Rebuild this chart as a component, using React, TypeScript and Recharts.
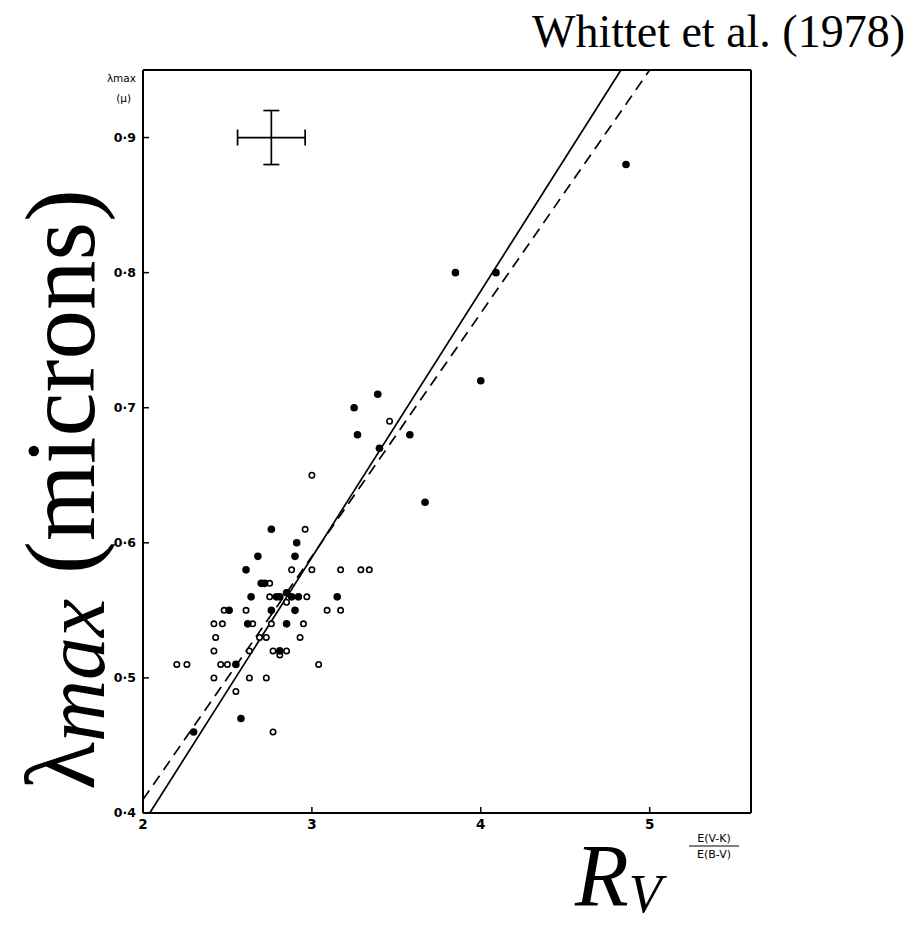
import { ScatterChart, Scatter, XAxis, YAxis, ReferenceLine, ErrorBar } from "recharts";

// stars with filled symbols
const closedRv = [
  4.86, 3.85, 4.09, 4.0, 3.39, 3.25, 3.27, 3.58, 3.4, 3.67,
  2.76, 2.91, 2.68, 2.9, 2.61, 2.7, 2.72, 2.85, 2.64, 2.79,
  2.81, 2.88, 2.92, 3.15, 2.51, 2.76, 2.9, 2.62, 2.85, 2.81,
  2.55, 2.58, 2.3,
];
const closedLambda = [
  0.88, 0.8, 0.8, 0.72, 0.71, 0.7, 0.68, 0.68, 0.67, 0.63,
  0.61, 0.6, 0.59, 0.59, 0.58, 0.57, 0.57, 0.563, 0.56, 0.56,
  0.56, 0.56, 0.56, 0.56, 0.55, 0.55, 0.55, 0.54, 0.54, 0.52,
  0.51, 0.47, 0.46,
];

// stars with open symbols
const openRv = [
  3.46, 3.0, 2.96, 2.88, 3.0, 3.17, 3.29, 3.34, 2.75, 2.75,
  2.97, 2.85, 2.48, 2.61, 3.09, 3.17, 2.42, 2.47, 2.65, 2.76,
  2.95, 2.43, 2.69, 2.73, 2.93, 2.42, 2.63, 2.77, 2.81, 2.85,
  2.2, 2.26, 2.46, 2.5, 3.04, 2.42, 2.63, 2.73, 2.55, 2.77,
];
const openLambda = [
  0.69, 0.65, 0.61, 0.58, 0.58, 0.58, 0.58, 0.58, 0.57, 0.56,
  0.56, 0.556, 0.55, 0.55, 0.55, 0.55, 0.54, 0.54, 0.54, 0.54,
  0.54, 0.53, 0.53, 0.53, 0.53, 0.52, 0.52, 0.52, 0.517, 0.52,
  0.51, 0.51, 0.51, 0.51, 0.51, 0.5, 0.5, 0.5, 0.49, 0.46,
];

// fitted relations (end points)
const solidFitRv = [2.04, 4.83];
const solidFitLambda = [0.4, 0.95];
const dashedFitRv = [2.0, 5.0];
const dashedFitLambda = [0.41, 0.95];

// typical error bars
const errRv = [2.76];
const errLambda = [0.9];
const errDRv = [0.2];
const errDLambda = [0.02];

const rvTicks = [2, 3, 4, 5];
const lambdaTicks = [0.4, 0.5, 0.6, 0.7, 0.8, 0.9];

const closed = closedRv.map((x, i) => ({ x, y: closedLambda[i] }));
const open = openRv.map((x, i) => ({ x, y: openLambda[i] }));
const errs = errRv.map((x, i) => ({ x, y: errLambda[i], ex: errDRv[i], ey: errDLambda[i] }));

const tickFont = { fill: "#000", fontSize: 12.5, fontFamily: "DejaVu Sans", fontWeight: 600 };
const axisLine = { stroke: "#000", strokeWidth: 2 };
const tickLine = { stroke: "#000", strokeWidth: 1.5 };

const Dot = (p: any) => <circle cx={p.cx} cy={p.cy} r={3.8} fill="#000" />;
const Ring = (p: any) => (
  <circle cx={p.cx} cy={p.cy} r={2.7} fill="#fff" stroke="#000" strokeWidth={1.6} />
);
const Nothing = () => <g />;

export default function App() {
  return (
    <div style={{ position: "absolute", left: 0, top: 0, width: 915, height: 926, background: "#fff" }}>
      <ScatterChart width={915} height={926} margin={{ top: 60, right: 154, bottom: 83, left: 83 }}>
        <XAxis
          xAxisId="b"
          type="number"
          dataKey="x"
          domain={[2, 5.6]}
          ticks={rvTicks}
          allowDataOverflow
          height={30}
          tickSize={-6}
          tickMargin={12}
          axisLine={axisLine}
          tickLine={tickLine}
          tick={{ ...tickFont, fontSize: 13.5 }}
        />
        <XAxis
          xAxisId="t"
          orientation="top"
          type="number"
          dataKey="x"
          domain={[2, 5.6]}
          ticks={rvTicks}
          allowDataOverflow
          height={10}
          tickSize={-6}
          axisLine={axisLine}
          tickLine={tickLine}
          tick={false}
        />
        <YAxis
          yAxisId="l"
          type="number"
          dataKey="y"
          domain={[0.4, 0.95]}
          ticks={lambdaTicks}
          allowDataOverflow
          width={60}
          tickSize={-6}
          tickMargin={13}
          axisLine={axisLine}
          tickLine={tickLine}
          tick={tickFont}
          tickFormatter={(v: number) => v.toFixed(1).replace(".", "·")}
        />
        <YAxis
          yAxisId="r"
          orientation="right"
          type="number"
          dataKey="y"
          domain={[0.4, 0.95]}
          ticks={lambdaTicks}
          allowDataOverflow
          width={10}
          tickSize={-6}
          axisLine={axisLine}
          tickLine={tickLine}
          tick={false}
        />
        <ReferenceLine
          xAxisId="b"
          yAxisId="l"
          segment={[
            { x: solidFitRv[0], y: solidFitLambda[0] },
            { x: solidFitRv[1], y: solidFitLambda[1] },
          ]}
          stroke="#000"
          strokeWidth={1.7}
          ifOverflow="visible"
        />
        <ReferenceLine
          xAxisId="b"
          yAxisId="l"
          segment={[
            { x: dashedFitRv[0], y: dashedFitLambda[0] },
            { x: dashedFitRv[1], y: dashedFitLambda[1] },
          ]}
          stroke="#000"
          strokeWidth={1.7}
          strokeDasharray="11 7"
          ifOverflow="visible"
        />
        <Scatter xAxisId="b" yAxisId="l" data={open} shape={Ring} isAnimationActive={false} />
        <Scatter xAxisId="b" yAxisId="l" data={closed} shape={Dot} isAnimationActive={false} />
        <Scatter xAxisId="b" yAxisId="l" data={errs} shape={Nothing} isAnimationActive={false}>
          <ErrorBar dataKey="ex" direction="x" width={8} stroke="#000" strokeWidth={1.7} isAnimationActive={false} />
          <ErrorBar dataKey="ey" direction="y" width={8} stroke="#000" strokeWidth={1.7} isAnimationActive={false} />
        </Scatter>
      </ScatterChart>

      <svg
        width={915}
        height={926}
        style={{ position: "absolute", left: 0, top: 0, pointerEvents: "none" }}
      >
        <text x={905} y={47} textAnchor="end" fontFamily="Liberation Serif" fontSize={46} fill="#000">
          Whittet et al. (1978)
        </text>

        {/* small axis captions in the frame corners */}
        <text x={136} y={82} textAnchor="end" fontFamily="DejaVu Sans" fontSize={10.5} fill="#000">
          λmax
        </text>
        <text x={131} y={102} textAnchor="end" fontFamily="DejaVu Sans" fontSize={10.5} fill="#000">
          (μ)
        </text>
        <g fontFamily="DejaVu Sans" fontSize={11} fill="#000">
          <text x={714} y={842} textAnchor="middle">E(V-K)</text>
          <line x1={689} x2={739} y1={846} y2={846} stroke="#000" strokeWidth={1} />
          <text x={714} y={858} textAnchor="middle">E(B-V)</text>
        </g>

        <text
          transform="translate(94,790) rotate(-90)"
          fontFamily="Liberation Serif"
          fontSize={99}
          fill="#000"
        >
          λ
          <tspan fontStyle="italic" fontSize={86} dy={10}>max</tspan>
          <tspan dy={-10}> (microns)</tspan>
        </text>

        <text x={575} y={905} fontFamily="Liberation Serif" fontStyle="italic" fontSize={88} fill="#000">
          R
          <tspan fontSize={54} dy={7}>V</tspan>
        </text>
      </svg>
    </div>
  );
}
